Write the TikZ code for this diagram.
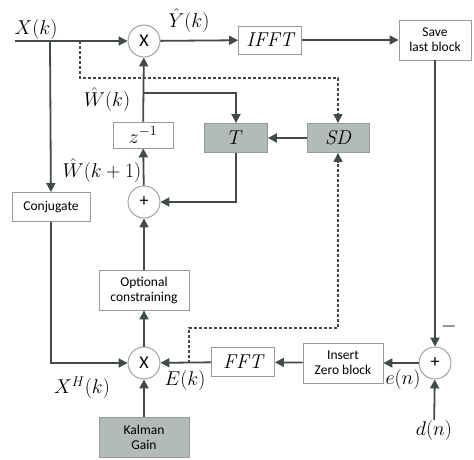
\RequirePackage{fix-cm}
\documentclass[tikz,border=0pt]{standalone}
\usepackage{fontspec}
\setsansfont{Carlito}
\usetikzlibrary{arrows.meta}
\definecolor{cL}{RGB}{66,74,74}
\definecolor{cB}{RGB}{150,155,155}
\definecolor{cG}{RGB}{178,186,186}
\newcommand{\mbig}{\fontsize{20}{21}\selectfont}
\tikzset{myblock/.style={
  shape=rectangle,
  draw=cB,
  fill=white,
  line width=0.9pt,
  align=center,
  font=\sffamily\fontsize{13.5}{15}\selectfont,
  inner sep=0pt,
  }
}
\tikzset{myblock2/.style={
  myblock,
  fill=cG,
  }
}
\tikzset{mycirc/.style={
  shape=circle,
  draw=cB,
  fill=white,
  line width=0.9pt,
  minimum size=32pt,
  inner sep=0pt,
  font=\sffamily\fontsize{18}{18}\selectfont,
  }
}
\tikzset{mylab/.style={
  font=\fontsize{20}{22}\selectfont,
  inner sep=0pt,
  }
}
\tikzset{myline/.style={
  draw=cL,
  line width=1.8pt,
  -{Triangle[width=9pt,length=9pt]},
  }
}

\begin{document}
\begin{tikzpicture}[x=1pt,y=-1pt]
  \useasboundingbox (0,0) rectangle (474,460);
  % blocks
  \node [mycirc] (mx1) at (144,41) {X};
  \node [myblock, minimum width=63pt, minimum height=28pt] (ifft) at (270,40) {\mbig$\mathit{IFFT}$};
  \node [myblock, minimum width=72pt, minimum height=40pt] (save) at (435,40) {Save\\last block};
  \node [myblock, minimum width=60pt, minimum height=26pt] (z1) at (143,135) {\mbig$z^{-1}$};
  \node [myblock2, minimum width=63pt, minimum height=29pt] (T) at (236,138) {\mbig$T$};
  \node [myblock2, minimum width=62pt, minimum height=29pt] (SD) at (338,138) {\mbig$\mathit{SD}$};
  \node [mycirc] (pl1) at (144,202) {+};
  \node [myblock, minimum width=78pt, minimum height=29pt] (conj) at (51,207) {Conjugate};
  \node [myblock, minimum width=90pt, minimum height=40pt] (opt) at (144,290) {Optional\\constraining};
  \node [mycirc] (mx2) at (144,363) {X};
  \node [myblock2, minimum width=90pt, minimum height=40pt] (kal) at (144,437) {Kalman\\Gain};
  \node [myblock, minimum width=63pt, minimum height=29pt] (fft) at (243,362) {\mbig$\mathit{FFT}$};
  \node [myblock, minimum width=80pt, minimum height=40pt] (ins) at (343,363) {Insert\\Zero block};
  \node [mycirc] (pl2) at (435,363) {+};

  % labels
  \node [mylab] (xk) at (36,30) {$X(k)$};
  \node [mylab] (yk) at (189,21) {$\hat{Y}(k)$};
  \node [mylab] (wk) at (107,100) {$\hat{W}(k)$};
  \node [mylab] (wk1) at (102,171) {$\hat{W}(k+1)$};
  \node [mylab] (xh) at (82,388) {$X^{H}(k)$};
  \node [mylab] (ek) at (185,380) {$E(k)$};
  \node [mylab] (en) at (403,379) {$e(n)$};
  \node [mylab] (dn) at (434,430) {$d(n)$};
  \node [mylab] (mn) at (449,326) {$-$};

  \coordinate (xin) at (15,41);
  \coordinate (j1) at (50,41);
  \coordinate (j2) at (80,41);
  \coordinate (w) at (144,93);
  \coordinate (j3) at (189,363);

  % connectors
  \draw [myline] (xin) -- (mx1);
  \draw [myline] (j1) -- (conj);
  \draw [myline] (mx1) -- (ifft);
  \draw [myline] (ifft) -- (save);
  \draw [myline] (save) -- (pl2);
  \draw [myline] (dn) -- (pl2);
  \draw [myline] (pl2) -- (ins);
  \draw [myline] (ins) -- (fft);
  \draw [myline] (fft) -- (mx2);
  \draw [myline] (conj) |- (mx2);
  \draw [myline] (kal) -- (mx2);
  \draw [myline] (mx2) -- (opt);
  \draw [myline] (opt) -- (pl1);
  \draw [myline] (pl1) -- (z1);
  \draw [myline] (z1) -- (mx1);
  \draw [myline] (w) -| (T);
  \draw [myline] (SD) -- (T);
  \draw [myline] (T) |- (pl1);
  \draw [myline, line width=1.4pt, dash pattern=on 3pt off 2pt] (j2) |- (200,78) -| (SD);
  \draw [myline, line width=1.4pt, dash pattern=on 3pt off 2pt] (j3) |- (260,328) -| (SD);
\end{tikzpicture}
\end{document}
